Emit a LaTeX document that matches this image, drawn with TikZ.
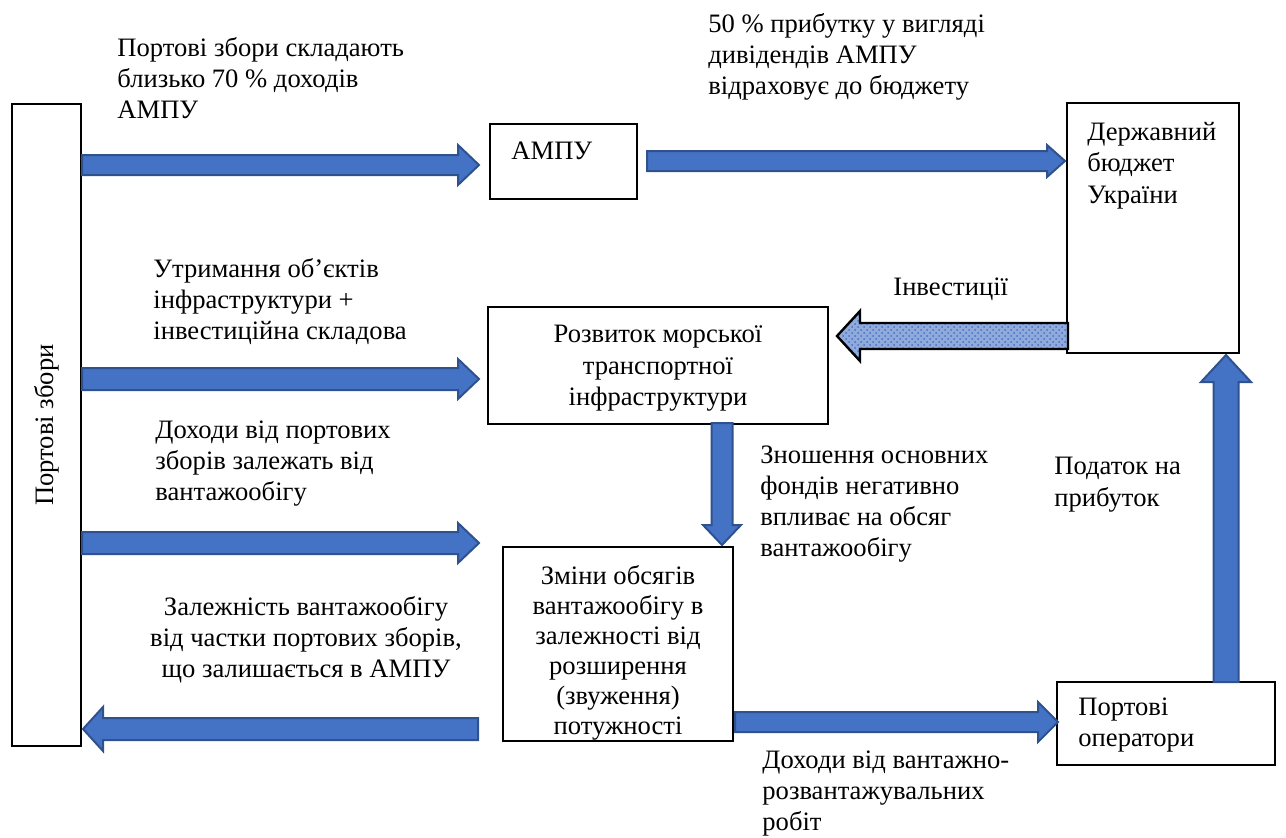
\documentclass[tikz,border=0pt]{standalone}
\usepackage{fontspec}
\setmainfont{Liberation Serif}
\usetikzlibrary{patterns,fit}
\definecolor{arrfill}{HTML}{4472C4}
\definecolor{arrline}{HTML}{2F528F}
\definecolor{invfill}{RGB}{145,170,220}
% horizontal block arrow: [style]{x0}{xtip}{cy}{shaft half}{head half}{signed head length}
\newcommand\harr[7][]{\draw[blkarr,#1] (#2,{#4-#5}) -- ({#3-(#7)},{#4-#5}) -- ({#3-(#7)},{#4-#6}) -- (#3,#4) -- ({#3-(#7)},{#4+#6}) -- ({#3-(#7)},{#4+#5}) -- (#2,{#4+#5}) -- cycle;}
% vertical block arrow: [style]{y0}{ytip}{cx}{shaft half}{head half}{signed head length}
\newcommand\varr[7][]{\draw[blkarr,#1] ({#4-#5},#2) -- ({#4-#5},{#3-(#7)}) -- ({#4-#6},{#3-(#7)}) -- (#4,#3) -- ({#4+#6},{#3-(#7)}) -- ({#4+#5},{#3-(#7)}) -- ({#4+#5},#2) -- cycle;}
\tikzset{
  box/.style={draw=black, line width=0.6pt, inner sep=0pt},
  txt/.style={inner sep=0pt, font=\fontsize{13.3pt}{15.6pt}\selectfont},
  txtb/.style={inner sep=0pt, font=\fontsize{13.3pt}{15pt}\selectfont},
  blkarr/.style={fill=arrfill, draw=arrline, line width=1pt, line join=miter},
  invarr/.style={draw=black, line width=1.2pt, preaction={fill=invfill}, pattern=crosshatch dots, pattern color=arrfill}
}
\begin{document}
\begin{tikzpicture}[x=0.5pt,y=-0.5pt]
\useasboundingbox (0,0) rectangle (1286,837);
% boxes
\node[box, fit={(12,104) (81,746)}] (fees) {};
\node[box, fit={(490,124) (637,199)}] (ampu) {};
\node[box, fit={(1067,103) (1239,353)}] (budget) {};
\node[box, fit={(488,307) (828,424)}] (dev) {};
\node[box, fit={(503,547) (733,741)}] (chg) {};
\node[box, fit={(1057,682) (1275,765)}] (oper) {};
% box texts
\node[txt, rotate=90] (feest) at (fees.center) {Портові збори};
\node[txt, anchor=north west] (ampt) at (511,142) {АМПУ};
\node[txt, anchor=north west, align=left] (budt) at (1087,122) {Державний\\бюджет\\України};
\node[txt, anchor=north, align=center] (devt) at (658,325) {Розвиток морської\\транспортної\\інфраструктури};
\node[txtb, anchor=north, align=center] (chgt) at (618,565) {Зміни обсягів\\вантажообігу в\\залежності від\\розширення\\(звуження)\\потужності};
\node[txt, anchor=north west, align=left] (opert) at (1078,697) {Портові\\оператори};
% labels
\node[txt, anchor=north west, align=left] (l1) at (117,37) {Портові збори складають\\близько 70 \% доходів\\АМПУ};
\node[txt, anchor=north west, align=left] (l2) at (708,13) {50 \% прибутку у вигляді\\дивідендів АМПУ\\відраховує до бюджету};
\node[txt, anchor=north west, align=left] (l3) at (153,258) {Утримання об’єктів\\інфраструктури +\\інвестиційна складова};
\node[txt, anchor=north west] (l4) at (893,277) {Інвестиції};
\node[txt, anchor=north west, align=left] (l5) at (155,420) {Доходи від портових\\зборів залежать від\\вантажообігу};
\node[txt, anchor=north west, align=left] (l6) at (760,445) {Зношення основних\\фондів негативно\\впливає на обсяг\\вантажообігу};
\node[txt, anchor=north west, align=left] (l7) at (1054,457) {Податок на\\прибуток};
\node[txt, anchor=north, align=center] (l8) at (306,596) {Залежність вантажообігу\\від частки портових зборів,\\що залишається в АМПУ};
\node[txt, anchor=north west, align=left] (l9) at (762,750) {Доходи від вантажно-\\розвантажувальних\\робіт};
% block arrows
\harr{82}{479}{165}{10}{20}{21}
\harr{647}{1065}{161}{10}{16}{18}
\harr{82}{479}{379}{11}{20}{21}
\harr{82}{479}{543}{11}{20}{21}
\harr{478}{83}{729}{11}{22}{-20}
\harr{735}{1058}{722}{10}{20}{20}
\harr[invarr]{1068}{837}{336}{13}{25}{-23}
\varr{423}{545}{722}{10.5}{19}{20}
\varr{682}{355}{1226}{12.5}{25}{-27}
\end{tikzpicture}
\end{document}
